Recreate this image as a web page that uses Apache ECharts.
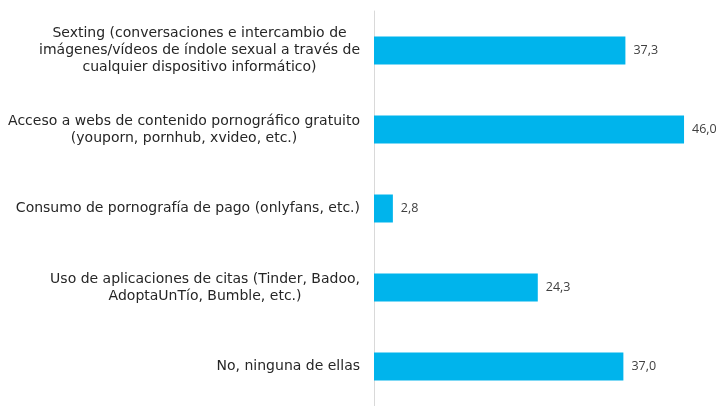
<!DOCTYPE html>
<html><head><meta charset="utf-8">
<script src="https://cdn.jsdelivr.net/npm/echarts@6/dist/echarts.min.js"></script>
<style>html,body{margin:0;padding:0;background:#fff}#c{width:718px;height:406px}</style>
</head><body><div id="c"></div>
<script>
var categories = [
  "Sexting (conversaciones e intercambio de\nimágenes/vídeos de índole sexual a través de\ncualquier dispositivo informático)",
  "Acceso a webs de contenido pornográfico gratuito\n(youporn, pornhub, xvideo, etc.)",
  "Consumo de pornografía de pago (onlyfans, etc.)",
  "Uso de aplicaciones de citas (Tinder, Badoo,\nAdoptaUnTío, Bumble, etc.)",
  "No, ninguna de ellas"
];
var values = [37.3, 46.0, 2.8, 24.3, 37.0];

var chart = echarts.init(document.getElementById('c'), null, {renderer:'canvas'});
chart.setOption({
  animation:false,
  grid:{left:374, right:7, top:11, bottom:-3, containLabel:false},
  xAxis:{type:'value', min:0, max:50, show:false},
  yAxis:{type:'category', data:categories, inverse:true,
    axisLine:{lineStyle:{color:'#d9d9d9', width:1}},
    axisTick:{show:false},
    axisLabel:{margin:14, align:'right', color:'#262626',
      formatter:function(v){return v.split('\n').map(function(l){return '{c|'+l+'}';}).join('\n');},
      rich:{c:{align:'center', fontFamily:'DejaVu Sans', fontSize:14, lineHeight:17, color:'#262626'}}
    }
  },
  series:[{type:'bar', data:values, barWidth:28, itemStyle:{color:'#00B4EC'},
    label:{show:true, position:'right', distance:8, fontFamily:'Open Sans', fontSize:12.5, color:'#404040',
      formatter:function(p){return p.value.toFixed(1).replace('.',',');}}
  }]
});
</script></body></html>
